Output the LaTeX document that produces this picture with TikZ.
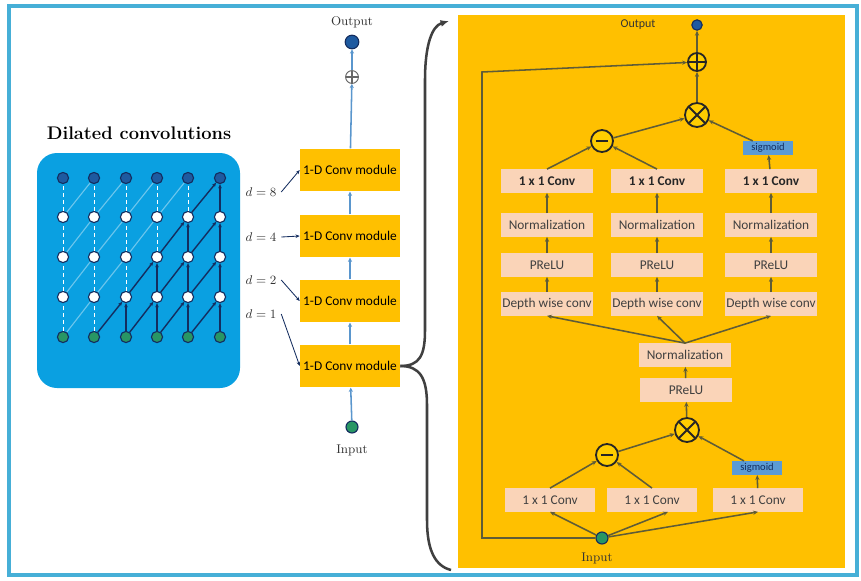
\documentclass[tikz,border=0pt]{standalone}
\usepackage{fontspec}
\newfontfamily\calib{Carlito}
\usetikzlibrary{arrows.meta}
\definecolor{frameblue}{RGB}{70,175,215}
\definecolor{gridblue}{RGB}{10,160,225}
\definecolor{panelorange}{RGB}{255,192,0}
\definecolor{boxpeach}{RGB}{250,212,184}
\definecolor{sigblue}{RGB}{91,155,213}
\definecolor{navy}{RGB}{20,45,95}
\definecolor{outblue}{RGB}{30,90,160}
\definecolor{ingreen}{RGB}{40,150,100}
\definecolor{flowblue}{RGB}{90,150,205}
\definecolor{flowolive}{RGB}{95,92,55}
\definecolor{bracegray}{RGB}{64,64,64}
\tikzset{
  topdot/.style={circle, draw=navy, fill=outblue, line width=0.8pt, inner sep=0pt, minimum size=0.28cm},
  middot/.style={topdot, fill=white},
  botdot/.style={topdot, fill=ingreen},
  darkedge/.style={navy, line width=1pt, -{Stealth[length=3pt,width=2.6pt]}},
  lightvert/.style={white, densely dashed, line width=0.5pt},
  lightdiag/.style={white, opacity=0.4, line width=0.8pt},
  module/.style={fill=panelorange, minimum width=2.5cm, minimum height=1.07cm, inner sep=0pt, font=\calib\fontsize{9.5}{11}\selectfont},
  flowM/.style={flowblue, line width=1.1pt, -{Stealth[length=3pt,width=3pt]}},
  dlink/.style={navy, line width=0.6pt, -{Stealth[length=3pt,width=2.5pt]}},
  pbox/.style={fill=boxpeach, minimum width=2.3cm, minimum height=0.58cm, inner sep=0pt, text=black!75, font=\calib\fontsize{9.5}{11}\selectfont},
  sigbox/.style={fill=sigblue, minimum width=1.25cm, minimum height=0.34cm, inner sep=1pt, text=navy, font=\calib\fontsize{7.5}{8}\selectfont},
  flowR/.style={flowolive, line width=1.1pt, -{Stealth[length=3.5pt,width=3pt]}},
  opnode/.style={circle, draw=black!85, line width=1.3pt, fill=panelorange!80!yellow, inner sep=0pt, minimum size=#1},
  plusnode/.style={opnode=#1, path picture={\draw[line width=1.1pt] (path picture bounding box.north) -- (path picture bounding box.south) (path picture bounding box.west) -- (path picture bounding box.east);}},
  timesnode/.style={opnode=#1, path picture={\draw[line width=1.3pt] (path picture bounding box.north west) -- (path picture bounding box.south east) (path picture bounding box.north east) -- (path picture bounding box.south west);}},
  minusnode/.style={opnode=#1, path picture={\draw[line width=1.3pt] ([xshift=0.12cm]path picture bounding box.west) -- ([xshift=-0.12cm]path picture bounding box.east);}},
  lab/.style={font=\fontsize{9}{10}\selectfont, text=black!80}
}
\begin{document}
\begin{tikzpicture}[x=0.025cm, y=-0.025cm]
\useasboundingbox (0,0) rectangle (861,580);
\draw[frameblue, line width=2.2pt] (9,6) rectangle (857,575);

% dilated convolutions
\node[font=\fontsize{13}{15}\selectfont\bfseries] (title) at (139,133) {Dilated convolutions};
\fill[gridblue, rounded corners=0.5cm] (37,153) rectangle (240,388);
\foreach \i/\x in {1/63,2/94,3/126,4/157,5/188,6/220} {
  \node[topdot] (g-\i-1) at (\x,178) {};
  \foreach \j/\y in {2/217,3/257,4/297} \node[middot] (g-\i-\j) at (\x,\y) {};
  \node[botdot] (g-\i-5) at (\x,337) {};
}
\foreach \i in {1,...,6}
  \foreach \j in {2,...,5} {
    \pgfmathtruncatemacro\k{\j-1}
    \pgfmathtruncatemacro\s{\i+\j}
    \ifnum\s>7 \draw[darkedge] (g-\i-\j) -- (g-\i-\k);
    \else \draw[lightvert] (g-\i-\j) -- (g-\i-\k); \fi
  }
\foreach \i in {1,...,5}
  \foreach \j in {2,...,5} {
    \pgfmathtruncatemacro\k{\j-1}
    \pgfmathtruncatemacro\n{\i+1}
    \pgfmathtruncatemacro\s{\i+\j}
    \ifnum\s>6 \draw[darkedge] (g-\i-\j) -- (g-\n-\k);
    \else \draw[lightdiag] (g-\i-\j) -- (g-\n-\k); \fi
  }

% stack of modules
\node[lab] (outMlab) at (352,22) {Output};
\node[topdot, minimum size=0.34cm] (outM) at (352,42) {};
\node[plusnode=0.32cm, draw=black!60, fill=white, line width=0.7pt] (plusM) at (352,77) {};
\foreach \n/\y in {1/170,2/236,3/301,4/366}
  \node[module] (mod\n) at (350,\y) {1-D Conv module};
\node[botdot, minimum size=0.3cm] (inM) at (352,427) {};
\node[lab] (inMlab) at (352,450) {Input};
\draw[flowM] (inM) -- (mod4);
\draw[flowM] (mod4) -- (mod3);
\draw[flowM] (mod3) -- (mod2);
\draw[flowM] (mod2) -- (mod1);
\draw[flowM] (mod1) -- (plusM);
\draw[flowM] (plusM) -- (outM);
\node[lab] (d8) at (261,192) {$d=8$};
\node[lab] (d4) at (261,237) {$d=4$};
\node[lab] (d2) at (261,280) {$d=2$};
\node[lab] (d1) at (261,314) {$d=1$};
\draw[dlink] (d8.east) -- (mod1.west);
\draw[dlink] (d4.east) -- (mod2.west);
\draw[dlink] (d2.east) -- (mod3.west);
\draw[dlink] (d1.east) -- (mod4.west);

% brace
\coordinate (braceTop) at (449,21);
\coordinate (braceBot) at (451,570);
\draw[bracegray, line width=1.8pt, -{Latex[length=6pt,width=5pt]}] (mod4.east) .. controls (420,366) and (425,355) .. (425,330) -- (425,80) .. controls (425,45) and (432,26) .. (braceTop);
\draw[bracegray, line width=1.8pt] (mod4.east) .. controls (420,366) and (427,378) .. (427,405) -- (427,520) .. controls (427,550) and (435,566) .. (braceBot);

% 1-D conv module
\fill[panelorange] (458,15) rectangle (845,568);
\node[lab, font=\calib\fontsize{8.5}{10}\selectfont] (outRlab) at (638,25) {Output};
\node[topdot, minimum size=0.26cm] (outR) at (697,25) {};
\node[plusnode=0.45cm] (plusR) at (697,62) {};
\node[timesnode=0.6cm] (timesT) at (697,115) {};
\node[minusnode=0.55cm] (minusT) at (602,141) {};
\node[sigbox] (sigT) at (768,148) {sigmoid};
\foreach \c/\x in {1/547,2/657,3/771} {
  \node[pbox, font=\calib\fontsize{9.5}{11}\selectfont\bfseries, text=black!85] (conv\c) at (\x,181) {1 x 1 Conv};
  \node[pbox] (norm\c) at (\x,225) {Normalization};
  \node[pbox] (prelu\c) at (\x,265) {PReLU};
  \node[pbox] (dwc\c) at (\x,304) {Depth wise conv};
  \draw[flowR] (dwc\c) -- (prelu\c);
  \draw[flowR] (prelu\c) -- (norm\c);
  \draw[flowR] (norm\c) -- (conv\c);
}
\node[pbox] (normC) at (685,355) {Normalization};
\node[pbox] (preluC) at (686,390) {PReLU};
\node[timesnode=0.6cm] (timesB) at (687,430) {};
\node[minusnode=0.55cm] (minusB) at (607,455) {};
\node[sigbox] (sigB) at (757,468) {sigmoid};
\node[pbox, minimum width=2.25cm] (convB1) at (550,500) {1 x 1 Conv};
\node[pbox, minimum width=2.25cm] (convB2) at (652,500) {1 x 1 Conv};
\node[pbox, minimum width=2.25cm] (convB3) at (758,500) {1 x 1 Conv};
\node[botdot, minimum size=0.3cm] (inR) at (602,538) {};
\node[lab] (inRlab) at (597,558) {Input};
\coordinate (skipB) at (482,538);
\coordinate (skipT) at (482,72);

\draw[flowR] (inR) -- (convB1.south);
\draw[flowR] (inR) -- ([xshift=0.4cm]convB2.south);
\draw[flowR] (inR) -- (convB3.south);
\draw[flowR] (convB1.north) -- (minusB);
\draw[flowR] (convB2.north) -- (minusB);
\draw[flowR] (convB3) -- (sigB);
\draw[flowR] (minusB) -- (timesB);
\draw[flowR] (sigB) -- (timesB);
\draw[flowR] (timesB) -- (preluC);
\draw[flowR] (preluC) -- (normC);
\draw[flowR] (normC.north) -- (dwc1.south);
\draw[flowR] (normC.north) -- (dwc2.south);
\draw[flowR] (normC.north) -- (dwc3.south);
\draw[flowR] (conv1.north) -- (minusT);
\draw[flowR] (conv2.north) -- (minusT);
\draw[flowR] (conv3) -- (sigT);
\draw[flowR] (sigT) -- (timesT);
\draw[flowR] (minusT) -- (timesT);
\draw[flowR] (timesT) -- (plusR);
\draw[flowR] (plusR) -- (outR);
\draw[flowR] (inR) -- (skipB) -- (skipT) -- (plusR);
\end{tikzpicture}
\end{document}
